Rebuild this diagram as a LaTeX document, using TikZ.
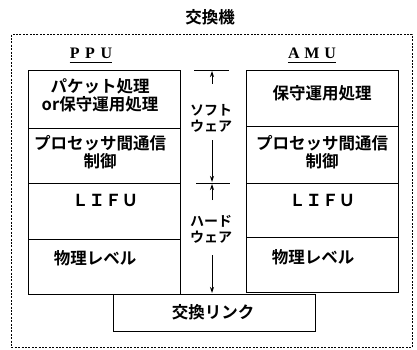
\documentclass[tikz,border=0pt]{standalone}
\usepackage{fontspec}
\newfontfamily\jp{Noto Sans CJK JP}[BoldFont={Noto Sans CJK JP Bold}]
\setmainfont{Liberation Serif}
\usetikzlibrary{arrows.meta}
\begin{document}
\begin{tikzpicture}[x=1pt,y=-1pt,
  cell/.style={draw,line width=1.1pt,minimum width=152pt,anchor=north west,inner sep=0pt},
  lbl/.style={font=\jp\bfseries\fontsize{16.5}{18}\selectfont,align=center,inner sep=0pt},
  mid/.style={font=\jp\bfseries\fontsize{14}{15}\selectfont,align=center,inner sep=0pt},
  head/.style={font=\bfseries\fontsize{16}{18}\selectfont,inner sep=0pt},
  tick/.style={line width=0.9pt},
  arr/.style={line width=0.9pt,-{Stealth[length=6pt,width=4pt]}}]
\useasboundingbox (0,0) rectangle (417,350);
% outer dashed frame
\node[draw,dash pattern=on 2pt off 1.4pt,line width=0.8pt,anchor=north west,minimum width=401pt,minimum height=313pt,inner sep=0pt] (frame) at (11,34) {};
\node[lbl] (title) at (210,17) {交換機};
% headings
\node[head,anchor=base] (ppu) at (91,59) {P\hspace{0.35em}P\hspace{0.35em}U};
\node[head,anchor=base] (amu) at (312,59) {A\hspace{0.3em}M\hspace{0.3em}U};
\draw[line width=1pt] ([yshift=-3.5pt]ppu.base west) -- ([yshift=-3.5pt]ppu.base east);
\draw[line width=1pt] ([yshift=-3.5pt]amu.base west) -- ([yshift=-3.5pt]amu.base east);
% PPU column
\node[cell,minimum height=58pt] (p1) at (28,70) {};
\node[cell,minimum height=55pt] (p2) at (28,128) {};
\node[cell,minimum height=56pt] (p3) at (28,183) {};
\node[cell,minimum height=55pt] (p4) at (28,239) {};
% AMU column
\node[cell,minimum height=56pt] (a1) at (246,70) {};
\node[cell,minimum height=57pt] (a2) at (246,126) {};
\node[cell,minimum height=54pt] (a3) at (246,183) {};
\node[cell,minimum height=55pt] (a4) at (246,237) {};
% switching link
\node[draw,line width=1.1pt,anchor=north west,minimum width=202pt,minimum height=37pt,inner sep=0pt] (link) at (113,294) {};
% texts
\node[lbl] (t11) at (100,95) {パケット処理\\or保守運用処理};
\node[lbl] (t12) at (100,152) {プロセッサ間通信\\制御};
\node[lbl] (t13) at (105,200) {ＬＩＦＵ};
\node[lbl] (t14) at (95,258) {物理レベル};
\node[lbl] (t21) at (322,93) {保守運用処理};
\node[lbl] (t22) at (322,152) {プロセッサ間通信\\制御};
\node[lbl] (t23) at (322,200) {ＬＩＦＵ};
\node[lbl] (t24) at (313,257) {物理レベル};
\node[lbl] (tl) at (213,312) {交換リンク};
% middle labels
\node[mid] (soft) at (211,118) {ソフト\\[1pt]ウェア};
\node[mid] (hard) at (211,229) {ハード\\[1pt]ウェア};
% ticks and arrows
\coordinate (s1) at (194,70); \coordinate (s2) at (229,70);
\coordinate (m1) at (196,183); \coordinate (m2) at (230,183);
\coordinate (u0) at (212,84); \coordinate (u1) at (212,71);
\coordinate (d0) at (212,140); \coordinate (d1) at (212,182);
\coordinate (e0) at (212,200); \coordinate (e1) at (212,184);
\coordinate (f0) at (212,255); \coordinate (f1) at (212,293);
\draw[tick] (s1) -- (s2);
\draw[tick] (m1) -- (m2);
\draw[arr] (u0) -- (u1);
\draw[arr] (d0) -- (d1);
\draw[arr] (e0) -- (e1);
\draw[arr] (f0) -- (f1);
\end{tikzpicture}
\end{document}
